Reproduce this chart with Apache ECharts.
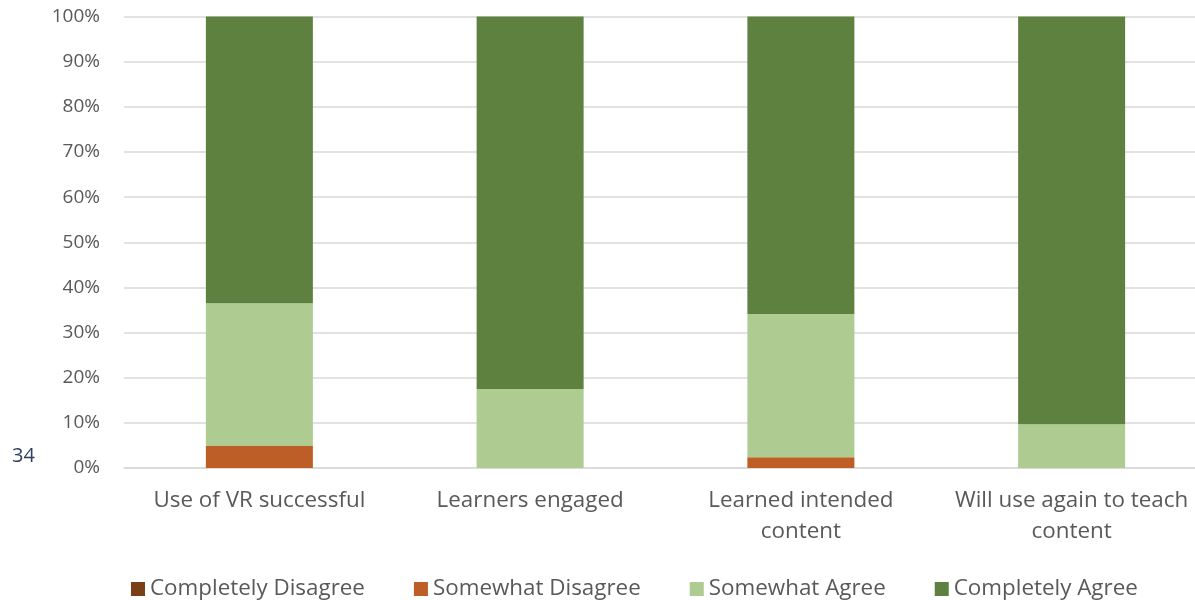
<!DOCTYPE html>
<html>
<head>
<meta charset="utf-8">
<script src="https://cdn.jsdelivr.net/npm/echarts@6/dist/echarts.min.js"></script>
<style>
  html, body { margin: 0; padding: 0; background: #ffffff; }
  #chart { width: 1195px; height: 600px; }
</style>
</head>
<body>
<div id="chart"></div>
<script>
// Survey statements (x-axis categories)
const categories = [
  'Use of VR successful',
  'Learners engaged',
  'Learned intended\ncontent',
  'Will use again to teach\ncontent'
];

// Share of responses (%) per answer
const completelyDisagree = [0, 0, 0, 0];
const somewhatDisagree   = [4.9, 0, 2.4, 0];
const somewhatAgree      = [31.6, 17.5, 31.7, 9.7];
const completelyAgree    = [63.5, 82.5, 65.9, 90.3];

const yTicks = [0, 10, 20, 30, 40, 50, 60, 70, 80, 90, 100];

const FONT = '"Open Sans", "Liberation Sans", sans-serif';
const TEXT = '#595959';

const chart = echarts.init(document.getElementById('chart'), null, { renderer: 'canvas' });

function stackSeries(name, data, color) {
  return {
    name: name,
    type: 'bar',
    stack: 'total',
    data: data,
    barWidth: 107,
    itemStyle: { color: color },
    emphasis: { disabled: true }
  };
}

chart.setOption({
  animation: false,
  textStyle: { fontFamily: FONT },
  grid: {
    left: 124, top: 16.5, width: 1083, height: 451.5,
    containLabel: false,
    outerBoundsMode: 'none'
  },
  legend: {
    top: 573,
    left: 126,
    itemWidth: 14,
    itemHeight: 14,
    itemGap: 49,
    icon: 'rect',
    textStyle: { fontFamily: FONT, fontSize: 22.4, color: TEXT },
    data: ['Completely Disagree', 'Somewhat Disagree', 'Somewhat Agree', 'Completely Agree']
  },
  xAxis: {
    type: 'category',
    data: categories,
    axisLine: { show: true, lineStyle: { color: '#d9d9d9', width: 1.5 } },
    axisTick: { show: false },
    axisLabel: {
      interval: 0,
      color: TEXT,
      fontFamily: FONT,
      fontSize: 22.4,
      lineHeight: 31,
      margin: 17
    }
  },
  yAxis: {
    type: 'value',
    min: yTicks[0],
    max: yTicks[yTicks.length - 1],
    interval: 10,
    axisLine: { show: false },
    axisTick: { show: false },
    splitLine: { lineStyle: { color: '#d9d9d9', width: 1.5 } },
    axisLabel: {
      color: TEXT,
      fontFamily: FONT,
      fontSize: 19,
      margin: 24,
      formatter: v => v + '%'
    }
  },
  graphic: [{
    type: 'text',
    left: 12,
    top: 446,
    style: { text: '34', fill: '#2f4060', font: '20px ' + FONT }
  }],
  series: [
    stackSeries('Completely Disagree', completelyDisagree, '#7a3f17'),
    stackSeries('Somewhat Disagree', somewhatDisagree, '#bd5e26'),
    stackSeries('Somewhat Agree', somewhatAgree, '#aecb91'),
    stackSeries('Completely Agree', completelyAgree, '#5e8140')
  ]
});
</script>
</body>
</html>
